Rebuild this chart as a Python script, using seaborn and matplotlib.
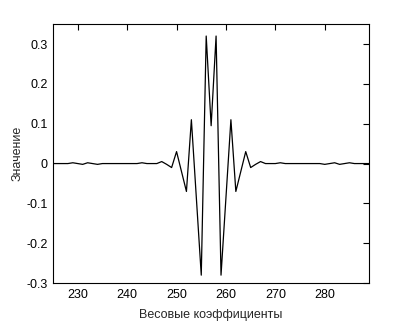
import pandas as pd
import matplotlib
matplotlib.use("Agg")
import matplotlib.pyplot as plt
import seaborn as sns

# filter taps, index 225..289
taps = list(range(225, 290))
values = [
    0.0, 0.0, 0.0, 0.0, 0.002, 0.0, -0.002, 0.002, 0.0, -0.002,   # 225-234
    0.0, 0.0, 0.0, 0.0, 0.0, 0.0, 0.0, 0.0, 0.002, 0.0,           # 235-244
    0.0, 0.0, 0.005, -0.002, -0.01, 0.03, -0.02, -0.07, 0.11, -0.085,  # 245-254
    -0.28, 0.32, 0.095, 0.32, -0.28, -0.085, 0.11, -0.07, -0.02, 0.03,  # 255-264
    -0.01, -0.002, 0.005, 0.0, 0.0, 0.0, 0.002, 0.0, 0.0, 0.0,    # 265-274
    0.0, 0.0, 0.0, 0.0, 0.0, -0.002, 0.0, 0.002, -0.002, 0.0,     # 275-284
    0.002, 0.0, 0.0, 0.0, 0.0,                                    # 285-289
]
xticks = [230, 240, 250, 260, 270, 280]
yticks = [-0.3, -0.2, -0.1, 0, 0.1, 0.2, 0.3]
ytick_labels = ["-0.3", "-0.2", "-0.1", "0", "0.1", "0.2", "0.3"]

df = pd.DataFrame({"tap": taps, "value": values})

sns.set_style("white")
plt.rcParams["font.family"] = ["Liberation Sans", "DejaVu Sans"]

fig = plt.figure(figsize=(4.08, 3.21), dpi=100)
ax = fig.add_axes([0.13, 0.118, 0.775, 0.807])
sns.lineplot(data=df, x="tap", y="value", color="black", linewidth=0.9, ax=ax)

ax.set_xlim(225, 289)
ax.set_ylim(-0.3, 0.35)
ax.set_xticks(xticks)
ax.set_yticks(yticks)
ax.set_yticklabels(ytick_labels)
ax.tick_params(direction="in", length=4, width=0.8, top=True, right=True,
               labelsize=9, colors="black", pad=4)
for s in ax.spines.values():
    s.set_color("black")
    s.set_linewidth(0.8)
ax.set_xlabel("Весовые коэффициенты", fontsize=9, labelpad=6)
ax.set_ylabel("Значение", fontsize=9, labelpad=2)

fig.savefig("out.png", dpi=100, facecolor="white")
plt.close("all")
